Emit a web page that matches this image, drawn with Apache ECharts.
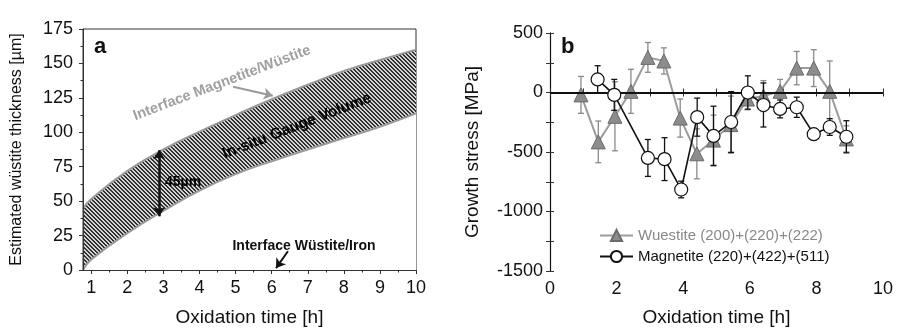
<!DOCTYPE html>
<html>
<head>
<meta charset="utf-8">
<script src="https://cdn.jsdelivr.net/npm/echarts@6/dist/echarts.min.js"></script>
<style>
html, body { margin: 0; padding: 0; background: #fff; }
#main { width: 897px; height: 332px; }
</style>
</head>
<body>
<div id="main"></div>
<script>
// panel a : estimated wustite thickness band
var bandTime  = [0.77, 1, 2, 3, 4, 5, 6, 7, 8, 9, 10];
var bandUpper = [44.6, 51.5, 72, 87.5, 100.5, 112.5, 124, 134.5, 144.5, 152.5, 160];
var bandLower = [0, 7.6, 26.7, 43, 57.7, 69.6, 79, 87.5, 95.8, 104, 113.7];
var aTicks = [1, 2, 3, 4, 5, 6, 7, 8, 9, 10];
var aMinor = [1.5, 2.5, 3.5, 4.5, 5.5, 6.5, 7.5, 8.5, 9.5];

// panel b : growth stress
var wueTime = [0.93, 1.45, 1.95, 2.43, 2.94, 3.42, 3.91, 4.41, 4.91, 5.43, 5.93, 6.41, 6.91, 7.41, 7.92, 8.4, 8.9];
var wueVal  = [-20, -415, -200, 10, 295, 265, -215, -515, -400, -270, -55, -30, 10, 205, 205, 10, -390];
var wueErr  = [155, 175, 290, 185, 125, 110, 160, 210, 210, 240, 90, 130, 100, 140, 155, 255, 110];

var magTime = [1.43, 1.93, 2.94, 3.44, 3.94, 4.42, 4.91, 5.44, 5.94, 6.41, 6.91, 7.41, 7.92, 8.4, 8.9];
var magVal  = [110, -20, -550, -560, -815, -207, -365, -248, 0, -105, -138, -124, -350, -290, -372];
var magErr  = [115, 130, 155, 180, 70, 160, 250, 255, 140, 185, 75, 85, 30, 70, 135];

var wueName = 'Wuestite (200)+(220)+(222)';
var magName = 'Magnetite (220)+(422)+(511)';
var FONT = 'Liberation Sans, Arial, sans-serif';

// hatch pattern for the gauge volume
function hatch() {
    var c = document.createElement('canvas');
    c.width = 4; c.height = 4;
    var g = c.getContext('2d');
    g.fillStyle = '#d2d2d2';
    g.fillRect(0, 0, 4, 4);
    g.fillStyle = '#333';
    for (var i = 0; i < 4; i++) {
        g.fillRect(i, i, 1, 1);
        g.fillRect((i + 1) % 4, i, 1, 1);
    }
    return c;
}

function pairs(xs, ys) {
    return xs.map(function (x, i) { return [x, ys[i]]; });
}
function bars(xs, ys, es) {
    return xs.map(function (x, i) { return [x, ys[i] - es[i], ys[i] + es[i]]; });
}
function errorBar(color) {
    return function (params, api) {
        var x = api.value(0);
        var lo = api.coord([x, api.value(1)]);
        var hi = api.coord([x, api.value(2)]);
        var st = { stroke: color, lineWidth: 1.3 };
        return {
            type: 'group',
            children: [
                { type: 'line', shape: { x1: lo[0], y1: lo[1], x2: hi[0], y2: hi[1] }, style: st },
                { type: 'line', shape: { x1: lo[0] - 3, y1: lo[1], x2: lo[0] + 3, y2: lo[1] }, style: st },
                { type: 'line', shape: { x1: hi[0] - 3, y1: hi[1], x2: hi[0] + 3, y2: hi[1] }, style: st }
            ]
        };
    };
}

var myChart = echarts.init(document.getElementById('main'));

var axisTxt = { color: '#111', fontSize: 18, fontFamily: FONT };
var nameTxt = { color: '#111', fontSize: 19, fontFamily: FONT };
var lineBlk = { lineStyle: { color: '#333', width: 1 } };
var plain = function (v) { return String(v); };

var option = {
    animation: false,
    grid: [
        { left: 83, right: 481, top: 29, bottom: 58, show: true, borderColor: '#333', borderWidth: 1 },
        { left: 550, right: 14, top: 33, bottom: 56 }
    ],
    legend: {
        orient: 'vertical',
        left: 594, top: 223,
        itemWidth: 33, itemHeight: 14, itemGap: 6,
        textStyle: { fontSize: 15, fontFamily: FONT },
        data: [
            { name: wueName, textStyle: { color: '#888' } },
            { name: magName, textStyle: { color: '#111' } }
        ]
    },
    xAxis: [
        {
            gridIndex: 0, type: 'value', min: 0.77, max: 10, z: 10,
            name: 'Oxidation time [h]', nameLocation: 'middle', nameGap: 38, nameTextStyle: nameTxt,
            axisLine: lineBlk,
            axisTick: { show: true, length: 4, customValues: aTicks, lineStyle: { color: '#333' } },
            axisLabel: Object.assign({ margin: 9, customValues: aTicks }, axisTxt),
            splitLine: { show: false }
        },
        {
            gridIndex: 0, type: 'value', min: 0.77, max: 10, position: 'bottom', z: 10,
            axisLine: { show: false },
            axisTick: { show: true, length: 2.5, customValues: aMinor, lineStyle: { color: '#333' } },
            axisLabel: { show: false },
            splitLine: { show: false }
        },
        {
            gridIndex: 1, type: 'value', min: 0, max: 10, interval: 2,
            name: 'Oxidation time [h]', nameLocation: 'middle', nameGap: 37, nameTextStyle: nameTxt,
            axisLine: lineBlk,
            axisTick: { inside: true, length: 4, lineStyle: { color: '#333' } },
            minorTick: { show: true, splitNumber: 2, length: 4, lineStyle: { color: '#333' } },
            axisLabel: Object.assign({ margin: 9 }, axisTxt),
            splitLine: { show: false }
        },
        {
            gridIndex: 1, type: 'value', min: 0, max: 10, interval: 2, position: 'top',
            axisLine: lineBlk,
            axisTick: { inside: true, length: 4, lineStyle: { color: '#333' } },
            minorTick: { show: true, splitNumber: 2, length: 4, lineStyle: { color: '#333' } },
            axisLabel: { show: false },
            splitLine: { show: false }
        }
    ],
    yAxis: [
        {
            gridIndex: 0, type: 'value', min: 0, max: 175, interval: 25, z: 10,
            name: 'Estimated wüstite thickness [µm]', nameLocation: 'middle', nameGap: 58,
            nameTextStyle: { color: '#111', fontSize: 16, fontFamily: FONT },
            axisLine: lineBlk,
            axisTick: { length: 4, lineStyle: { color: '#333' } },
            minorTick: { show: true, splitNumber: 2, length: 2.5, lineStyle: { color: '#333' } },
            axisLabel: Object.assign({ margin: 10 }, axisTxt),
            splitLine: { show: false }
        },
        {
            gridIndex: 1, type: 'value', min: -1500, max: 500, interval: 500,
            name: 'Growth stress [MPa]', nameLocation: 'middle', nameGap: 68, nameTextStyle: nameTxt,
            axisLine: lineBlk,
            axisTick: { inside: true, length: 4, lineStyle: { color: '#333' } },
            minorTick: { show: true, splitNumber: 2, length: 4, lineStyle: { color: '#333' } },
            axisLabel: Object.assign({ margin: 7, formatter: plain }, axisTxt),
            splitLine: { show: false }
        },
        {
            gridIndex: 1, type: 'value', min: -1500, max: 500, interval: 500, position: 'right',
            axisLine: { lineStyle: { color: '#111', width: 1.2 } },
            axisTick: { inside: true, length: 4, lineStyle: { color: '#333' } },
            minorTick: { show: true, splitNumber: 2, length: 4, lineStyle: { color: '#333' } },
            axisLabel: { show: false },
            splitLine: { show: false }
        }
    ],
    graphic: [
        { type: 'text', left: 94, top: 36, z: 20, style: { text: 'a', font: 'bold 22px ' + FONT, fill: '#111' } },
        { type: 'text', left: 561, top: 36, z: 20, style: { text: 'b', font: 'bold 22px ' + FONT, fill: '#111' } },
        { type: 'text', x: 222, y: 83, rotation: 0.363, z: 20,
          style: { text: 'Interface Magnetite/Wüstite', font: 'bold 14.5px ' + FONT, fill: '#a0a0a0', align: 'center', verticalAlign: 'middle' } },
        { type: 'text', x: 297, y: 126, rotation: 0.37, z: 20,
          style: { text: 'In-situ Gauge Volume', font: 'bold 15.5px ' + FONT, fill: '#000', align: 'center', verticalAlign: 'middle' } },
        { type: 'text', x: 165, y: 182, z: 20,
          style: { text: '45µm', font: 'bold 14px ' + FONT, fill: '#000', align: 'left', verticalAlign: 'middle' } },
        { type: 'text', x: 304, y: 246, z: 20,
          style: { text: 'Interface Wüstite/Iron', font: 'bold 14px ' + FONT, fill: '#111', align: 'center', verticalAlign: 'middle' } }
    ],
    series: [
        {
            name: 'upper', type: 'line', xAxisIndex: 0, yAxisIndex: 0,
            smooth: true, showSymbol: false, silent: true,
            lineStyle: { color: '#9a9a9a', width: 2 },
            areaStyle: { color: { image: hatch(), repeat: 'repeat' }, opacity: 1, origin: 'start' },
            data: pairs(bandTime, bandUpper),
            z: 2
        },
        {
            name: 'lower', type: 'line', xAxisIndex: 0, yAxisIndex: 0,
            smooth: true, showSymbol: false, silent: true,
            lineStyle: { color: '#9a9a9a', width: 2 },
            areaStyle: { color: '#fff', opacity: 1, origin: 'start' },
            data: pairs(bandTime, bandLower),
            markLine: {
                silent: true, symbol: ['none', 'arrow'], symbolSize: 9,
                label: { show: false },
                data: [
                    [{ coord: [2.88, 87], symbol: 'arrow', lineStyle: { color: '#111', width: 2.5, type: 'solid' } },
                     { coord: [2.88, 39], symbol: 'arrow' }],
                    [{ coord: [4.93, 133], lineStyle: { color: '#9a9a9a', width: 2, type: 'solid' } },
                     { coord: [6.03, 126.6] }],
                    [{ coord: [6.45, 13.6], lineStyle: { color: '#111', width: 2, type: 'solid' } },
                     { coord: [6.12, 1.4] }]
                ]
            },
            z: 3
        },
        {
            name: 'wueErr', type: 'custom', xAxisIndex: 2, yAxisIndex: 1,
            renderItem: errorBar('#8a8a8a'), encode: { x: 0, y: [1, 2] },
            data: bars(wueTime, wueVal, wueErr), z: 2, silent: true
        },
        {
            name: wueName, type: 'line', xAxisIndex: 2, yAxisIndex: 1,
            symbol: 'triangle', symbolSize: 14,
            itemStyle: { color: '#8c8c8c', borderColor: '#6a6a6a', borderWidth: 1 },
            lineStyle: { color: '#9c9c9c', width: 2 },
            data: pairs(wueTime, wueVal),
            markLine: {
                silent: true, symbol: 'none', label: { show: false },
                lineStyle: { color: '#111', width: 2, type: 'solid' },
                data: [{ yAxis: 0 }]
            },
            z: 3
        },
        {
            name: 'magErr', type: 'custom', xAxisIndex: 2, yAxisIndex: 1,
            renderItem: errorBar('#111'), encode: { x: 0, y: [1, 2] },
            data: bars(magTime, magVal, magErr), z: 4, silent: true
        },
        {
            name: magName, type: 'line', xAxisIndex: 2, yAxisIndex: 1,
            symbol: 'circle', symbolSize: 13,
            itemStyle: { color: '#fff', borderColor: '#111', borderWidth: 1.2 },
            lineStyle: { color: '#111', width: 1.6 },
            data: pairs(magTime, magVal),
            z: 5
        }
    ]
};

myChart.setOption(option);
</script>
</body>
</html>
